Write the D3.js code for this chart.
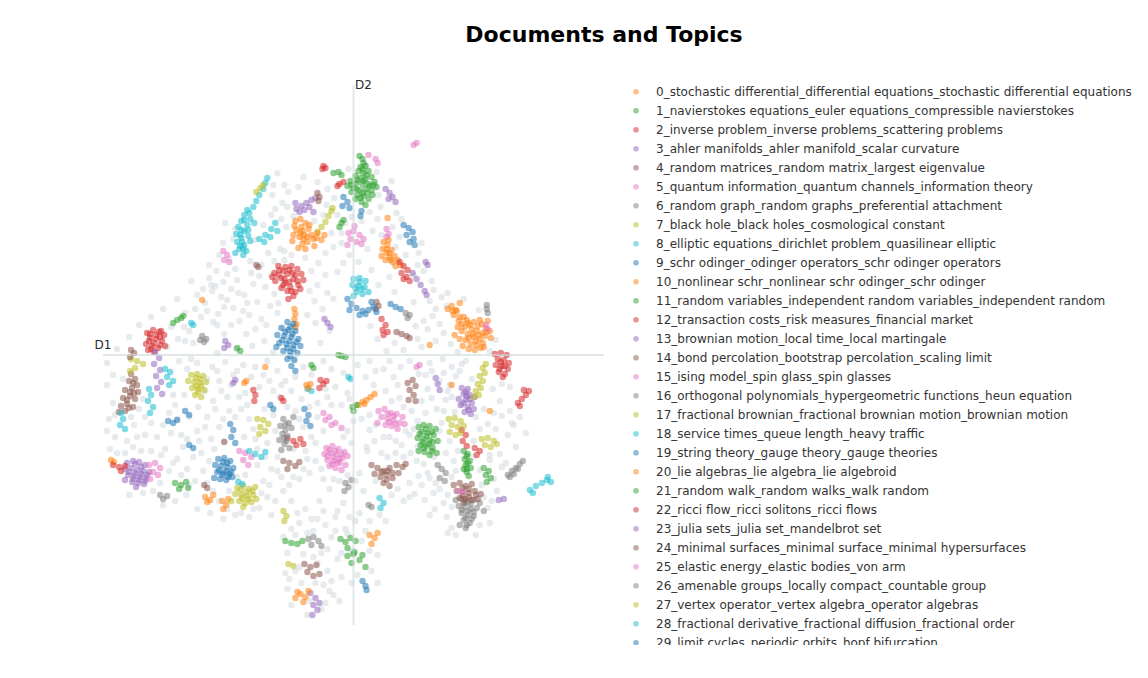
<!DOCTYPE html>
<html>
<head>
<meta charset="utf-8">
<script src="https://cdn.jsdelivr.net/npm/d3@7"></script>
<style>
  body { margin: 0; background: #fff; }
  text { font-family: "DejaVu Sans", Verdana, sans-serif; }
</style>
</head>
<body>
<div id="chart"></div>
<script>
const topicLabels = [
    "0_stochastic differential_differential equations_stochastic differential equations",
    "1_navierstokes equations_euler equations_compressible navierstokes",
    "2_inverse problem_inverse problems_scattering problems",
    "3_ahler manifolds_ahler manifold_scalar curvature",
    "4_random matrices_random matrix_largest eigenvalue",
    "5_quantum information_quantum channels_information theory",
    "6_random graph_random graphs_preferential attachment",
    "7_black hole_black holes_cosmological constant",
    "8_elliptic equations_dirichlet problem_quasilinear elliptic",
    "9_schr odinger_odinger operators_schr odinger operators",
    "10_nonlinear schr_nonlinear schr odinger_schr odinger",
    "11_random variables_independent random variables_independent random",
    "12_transaction costs_risk measures_financial market",
    "13_brownian motion_local time_local martingale",
    "14_bond percolation_bootstrap percolation_scaling limit",
    "15_ising model_spin glass_spin glasses",
    "16_orthogonal polynomials_hypergeometric functions_heun equation",
    "17_fractional brownian_fractional brownian motion_brownian motion",
    "18_service times_queue length_heavy traffic",
    "19_string theory_gauge theory_gauge theories",
    "20_lie algebras_lie algebra_lie algebroid",
    "21_random walk_random walks_walk random",
    "22_ricci flow_ricci solitons_ricci flows",
    "23_julia sets_julia set_mandelbrot set",
    "24_minimal surfaces_minimal surface_minimal hypersurfaces",
    "25_elastic energy_elastic bodies_von arm",
    "26_amenable groups_locally compact_countable group",
    "27_vertex operator_vertex algebra_operator algebras",
    "28_fractional derivative_fractional diffusion_fractional order",
    "29_limit cycles_periodic orbits_hopf bifurcation"
];

// documents outside the shown topics (grey)
const otherPoints = [
    [-14.8,5.2],[-14.1,6.4],[-13.5,4.1],[-13.0,7.3],[-12.6,5.5],[-12.2,3.0],[-11.8,8.6],[-11.5,6.2],[-11.0,4.4],[-10.7,2.1],
    [-10.3,9.4],[-10.0,7.1],[-9.6,5.3],[-9.2,3.6],[-8.9,1.4],[-8.5,10.2],[-8.2,8.0],[-7.9,6.1],[-7.6,4.2],[-7.3,10.6],
    [-6.9,9.5],[-4.8,9.7],[-4.2,8.4],[-3.6,7.0],[-3.9,5.4],[-3.1,4.6],[-12.9,2.1],[-14.0,3.3],[-15.2,3.8],[-16.4,2.4],
    [-17.5,1.6],[-13.7,8.4],[-12.4,9.6],[-11.1,10.8],[-9.8,11.5],[-15.6,6.0],[-14.4,7.7],[-11.7,0.6],[-10.1,0.9],[-8.7,3.0],
    [-9.4,7.9],[-10.9,6.0],[-12.0,4.7],[-13.2,5.8],[-7.0,2.7],[-8.0,0.3],[-3.3,1.2],[-2.4,2.4],[-2.0,5.6],[-1.6,8.3],
    [-13.8,6.9],[-12.9,4.8],[-12.2,6.6],[-11.4,3.4],[-10.6,5.2],[-10.2,8.2],[-9.2,9.0],[-8.8,6.8],[-8.3,4.9],[-7.5,5.2],
    [-7.9,9.4],[-6.9,10.4],[-6.2,10.0],[-3.5,9.2],[-2.8,8.0],[-2.6,6.2],[-4.4,6.4],[-4.6,4.0],[-3.8,3.2],[-9.8,2.6],
    [-10.4,4.0],[-11.6,7.5],[-12.6,8.1],[-13.6,3.0],[-14.6,4.4],[-15.8,4.6],[-16.8,1.4],[-9.0,13.0],[-8.2,14.0],[-7.2,13.6],
    [-6.6,14.8],[-6.9,17.0],[-7.6,18.2],[-8.0,17.0],[-2.0,10.8],[-2.8,10.2],[-1.2,12.2],[-3.0,14.0],[-0.2,13.8],[2.8,12.0],
    [4.6,11.8],[6.8,11.2],[5.2,10.0],[6.0,8.0],[7.8,7.4],[8.8,5.8],[9.4,6.2],[-12.0,11.6],[-13.4,10.0],[-14.2,7.0],
    [-7.8,14.6],[-7.1,15.2],[-6.5,16.3],[-6.0,13.9],[-5.5,16.8],[-3.6,17.3],[-2.6,16.6],[-1.9,15.7],[-2.7,15.0],[-1.6,14.0],
    [-0.8,13.2],[-2.2,12.2],[-1.2,11.2],[-0.4,10.0],[0.5,9.3],[1.4,10.6],[1.9,12.4],[2.4,13.6],[2.7,14.8],[1.6,14.3],
    [2.5,16.0],[4.3,14.2],[4.8,13.6],[3.9,12.8],[4.2,10.8],[6.5,10.2],[7.0,8.4],[6.4,9.0],[-6.7,12.8],[-8.1,16.0],
    [-5.0,17.8],[-3.9,13.4],[1.2,19.0],[2.3,18.3],[3.8,17.4],[-0.5,18.6],[1.8,8.5],[2.5,7.0],[3.6,7.8],[4.1,6.3],
    [8.0,6.5],[7.6,5.4],[6.0,5.3],[-1.0,9.2],[0.8,13.4],
    [7.9,3.9],[8.6,3.1],[9.3,4.9],[9.0,2.2],[8.2,1.4],[9.7,1.1],[10.4,0.3],[7.4,2.6],[6.8,0.8],[6.2,2.9],
    [5.0,0.5],[4.1,1.2],[3.3,0.4],[2.4,1.6],[1.7,2.9],[8.9,-0.4],[7.6,-0.8],[6.5,-1.9],[10.8,-0.9],[12.5,4.5],
    [11.0,5.6],[13.6,0.4],[14.2,1.5],[14.8,-2.9],[13.9,-3.4],[15.6,-3.2],
    [8.2,4.6],[7.0,3.4],[6.4,1.6],[5.6,-0.6],[7.8,-1.6],[8.6,-2.6],[9.8,-1.2],[10.6,-1.6],[11.2,-0.6],[3.6,-0.6],
    [2.2,-1.6],[4.4,-3.0],[3.8,-4.6],[5.0,-5.2],[6.8,-4.6],[7.4,-3.4],[9.0,-5.6],[9.8,-4.2],[8.8,-6.8],[6.0,-7.4],
    [5.2,-7.6],[4.2,-8.6],[3.0,-8.2],[2.2,-7.0],[1.6,-6.0],[5.0,-10.2],[6.4,-9.2],[7.4,-11.8],[8.2,-12.8],[9.8,-12.2],
    [10.0,-10.6],[12.6,-7.4],[12.0,-8.6],[14.6,-4.6],[15.6,-5.6],[15.8,-6.8],[14.0,-5.8],[13.6,-10.0],[14.8,-11.2],[12.8,-13.0],
    [13.8,-14.6],[9.8,-15.2],[9.0,-14.8],[8.0,-13.8],[6.8,-13.0],[4.4,-13.4],[5.6,-14.2],[4.2,-9.8],[3.4,-10.2],[9.4,-17.8],
    [12.2,-18.0],[13.6,-16.8],[7.6,-16.0],[16.6,-6.2],[10.8,-5.0],[9.4,-3.6],
    [3.0,-1.4],[4.0,-2.2],[4.7,-1.2],[7.2,-2.0],[7.8,-4.3],[9.0,-1.8],[9.6,-3.0],[9.2,-4.5],[10.2,-2.1],[8.3,-5.4],
    [7.2,-5.8],[6.4,-6.6],[5.8,-5.6],[4.6,-4.3],[3.2,-3.6],[2.0,-3.0],[1.2,-2.2],[0.8,-6.4],[1.6,-7.5],[2.1,-8.6],
    [3.6,-8.2],[4.8,-9.0],[5.6,-8.0],[5.7,-9.8],[6.3,-10.6],[7.0,-10.9],[8.0,-10.2],[9.2,-9.8],[9.6,-8.6],[10.4,-9.6],
    [12.2,-6.2],[13.0,-5.4],[13.4,-6.9],[14.2,-7.4],[14.8,-6.1],[15.4,-8.0],[14.6,-9.9],[15.2,-10.8],[13.6,-10.5],[12.6,-11.5],
    [14.0,-12.4],[13.0,-14.2],[14.3,-13.6],[9.4,-14.0],[8.6,-13.4],[7.6,-12.3],[6.5,-12.1],[5.6,-12.8],[6.1,-13.9],[7.1,-14.5],
    [8.1,-15.4],[9.3,-16.2],[9.8,-17.3],[10.2,-18.0],[12.6,-17.0],[13.4,-15.3],[2.8,-9.8],[1.3,-9.2],[0.6,-11.8],[5.0,-14.6],
    [3.8,-14.0],[16.0,-7.0],[16.2,-9.2],[17.2,-7.8],[12.0,-10.2],[10.2,-11.6],[11.8,-2.4],[10.1,-5.7],[8.6,-7.6],
    [-24.6,-3.0],[-24.0,-4.8],[-24.4,-6.4],[-23.8,-8.2],[-24.3,-9.4],[-22.6,-8.6],[-21.9,-7.0],[-21.4,-5.4],[-20.8,-8.0],[-21.2,-9.6],
    [-22.4,-14.0],[-21.0,-13.8],[-20.0,-13.6],[-19.3,-12.8],[-18.4,-11.6],[-17.6,-10.4],[-18.8,-9.4],[-19.6,-8.2],[-17.2,-8.0],[-17.8,-5.0],
    [-16.9,-4.0],[-17.4,-0.6],[-16.2,-0.4],[-15.5,-5.2],[-14.6,-6.2],[-15.6,-7.6],[-14.2,-8.4],[-15.2,-9.8],[-16.6,-11.4],[-15.8,-12.6],
    [-16.7,-14.0],[-15.6,-15.4],[-14.3,-15.8],[-13.0,-16.4],[-11.8,-16.0],[-10.4,-16.2],[-9.4,-15.3],[-8.6,-14.2],[-9.0,-12.6],[-8.2,-11.4],
    [-7.6,-10.2],[-9.6,-11.0],[-10.8,-12.0],[-11.6,-12.2],[-14.4,-10.6],[-13.9,-9.4],[-12.9,-8.6],[-13.4,-7.2],[-13.8,-5.4],[-12.6,-4.2],
    [-13.4,-2.6],[-14.1,-1.2],[-12.8,-0.7],[-11.6,-1.6],[-10.8,-3.8],[-11.2,-5.4],[-10.4,-6.4],[-10.9,-8.2],[-9.8,-8.4],[-8.6,-8.8],
    [-7.8,-7.6],[-8.0,-6.0],[-8.9,-5.4],[-9.4,-3.2],[-8.4,-2.6],[-7.6,-1.6],[-8.6,-0.6],[-6.8,-2.6],[-5.8,-2.2],[-5.2,-4.4],
    [-5.8,-5.6],[-6.0,-9.4],[-4.8,-9.6],[-4.2,-8.2],[-3.8,-10.6],[-4.4,-11.8],[-5.4,-12.4],[-6.4,-13.0],[-7.2,-12.2],[-3.6,-4.8],
    [-2.6,-4.2],[-1.8,-3.2],[-1.2,-5.0],[-0.6,-7.6],[-0.2,-8.8],[-3.0,-12.4],[-2.4,-13.4],[-1.4,-12.6],[-3.4,-14.6],[-20.2,-6.8],
    [-22.8,-9.8],[-18.2,-7.8],[-16.4,-6.2],[-14.8,-3.6],[-12.2,-3.0],[-9.8,-1.2],[-6.4,-6.8],[-7.4,-4.2],[-19.0,-15.0],[-17.8,-14.6],
    [-12.4,-13.6],[-5.0,-7.2],[-2.2,-1.4],[-1.0,-1.8],[-23.0,-2.4],[-18.6,0.8],[-16.0,1.2],[-13.6,0.2],
    [-24.0,-2.0],[-23.8,-6.0],[-23.6,-9.8],[-22.2,-6.2],[-21.0,-4.4],[-20.8,-6.2],[-21.6,-8.2],[-20.2,-9.6],[-19.2,-10.0],[-19.0,-7.0],
    [-18.4,-5.8],[-17.6,-6.4],[-17.0,-9.2],[-18.0,-10.8],[-17.2,-12.0],[-16.4,-13.0],[-16.0,-10.2],[-15.4,-8.6],[-14.8,-7.2],[-15.0,-11.6],
    [-14.6,-12.8],[-14.0,-13.6],[-12.6,-15.4],[-11.2,-15.8],[-10.0,-15.4],[-9.2,-13.8],[-8.4,-13.0],[-7.8,-14.6],[-7.6,-11.6],[-8.8,-10.2],
    [-9.6,-9.4],[-10.0,-7.4],[-10.6,-5.0],[-11.4,-4.2],[-11.8,-6.2],[-12.4,-5.6],[-13.0,-6.4],[-14.0,-4.6],[-13.2,-3.6],[-14.6,-2.4],
    [-13.6,-1.6],[-12.0,-2.0],[-11.0,-1.0],[-10.2,-2.2],[-9.0,-2.0],[-8.0,-3.6],[-7.2,-3.0],[-6.2,-3.6],[-6.6,-5.2],[-5.4,-6.4],
    [-4.4,-5.2],[-3.6,-6.2],[-3.0,-7.6],[-3.8,-8.8],[-4.6,-10.4],[-5.0,-11.4],[-6.0,-12.2],[-7.0,-13.6],[-3.2,-11.4],[-2.0,-12.4],
    [-0.6,-12.0],[-1.0,-8.2],[0.0,-6.6],[-0.4,-4.4],[-2.2,-5.0],[-2.8,-3.4],[-4.2,-2.0],[-5.0,-1.2],[-6.0,-0.4],[-3.0,-0.6],
    [-24.6,-7.6],[-22.0,-9.2],[-18.0,-4.0],[-16.6,-1.4],[-15.6,-0.8],[-16.6,-8.4],[-13.4,-14.6],[-8.2,-16.0],[-6.2,-14.6],
    [-6.2,-17.4],[-5.4,-16.8],[-4.6,-17.8],[-3.6,-16.4],[-2.8,-17.0],[-1.8,-16.2],[-0.8,-17.4],[0.2,-16.6],[1.2,-17.6],[-5.8,-18.0],
    [-4.0,-17.6],[-2.2,-18.2],[-0.6,-17.9],[-6.6,-19.8],[-5.0,-19.9],[-3.2,-19.8],[-1.6,-20.4],[-2.6,-21.6],[-1.2,-22.2],[-6.4,-22.4],
    [-5.2,-22.8],[-3.0,-23.0],[-2.0,-24.0],[-5.8,-21.6],[-3.6,-20.8],[0.4,-22.0],[-6.6,-23.4],[-2.8,-24.8],[-4.6,-26.0],[-0.2,-19.6],
    [2.4,-20.0],[2.6,-16.0],[-7.0,-18.2],[-1.0,-14.8],[0.6,-15.8],[-4.8,-15.4],
    [-5.6,-15.8],[-4.2,-16.4],[-3.0,-15.6],[-1.8,-17.6],[-0.4,-16.2],[1.6,-16.6],[0.8,-18.6],[-2.6,-19.4],[-1.2,-19.8],[1.6,-19.6],
    [-4.0,-20.2],[-5.4,-21.2],[-6.8,-21.8],[-2.2,-22.6],[-0.2,-22.8],[-3.8,-22.8],[-4.4,-24.6],[-3.2,-25.4],[-6.2,-25.0],[-2.4,-23.6],
    [-1.4,-24.6],[1.8,-21.6],[2.4,-22.8],
    [0.4,-1.0],[1.6,-0.6],[-0.6,-3.8],[1.4,-9.6],[0.2,-12.6],[2.2,-12.6],[1.0,-13.6],[-1.6,-15.6],[3.2,-16.6],
    [-24.6,-0.8],[-23.6,0.6],[-22.4,1.8],[-21.4,3.0],[-20.2,3.8],[-19.0,4.6],[-17.6,5.6],[-16.8,4.2],[-18.2,2.8],[-16.9,2.8],
    [-15.0,6.6],[-16.2,7.4],[-14.4,9.0],[-13.0,11.2],[-11.8,12.6],[-12.8,13.2]
];

const t0 = [[9.4,4.6],[9.8,4.9],[10.3,4.4],[10.0,4.0],[10.6,3.8],[10.2,4.5],[11.3,3.5],[10.8,3.1],[11.6,3.0],[12.0,3.3],[12.4,2.9],[12.8,3.1],[13.2,2.7],[13.6,2.4],[12.9,2.2],[12.3,2.4],[11.8,2.6],[11.4,2.1],[12.0,1.8],[12.6,1.6],[13.1,1.9],[13.7,1.7],[11.2,1.5],[11.7,1.1],[12.3,1.0],[12.9,1.2],[12.1,0.5],[11.5,0.6],[10.8,2.4],[10.4,2.8],[13.4,3.4],[12.6,3.5],[11.4,3.2],[10.1,2.0],[10.9,0.9],
    [10.5,3.4],[11.1,2.8],[11.9,2.1],[12.5,2.0],[13.3,2.3],[11.5,1.7],[12.2,1.4],[10.6,1.6],[12.7,0.7],[11.0,3.8],[9.9,4.4],[13.0,0.8],
    [-14.8,-14.2],[-14.3,-14.5],[-14.0,-14.0],[-14.6,-14.7],[-13.1,-14.6],[-12.7,-15.0],[-13.0,-15.4],[-12.5,-14.4],[-23.9,-10.7],[-24.2,-10.5],[7.6,1.0],[9.8,-3.0],[13.6,-5.6]];
const t1 = [[0.6,19.9],[0.9,19.6],[1.0,19.2],[0.7,18.8],[1.2,18.9],[0.5,18.4],[1.0,18.2],[1.5,18.4],[0.2,17.9],[0.7,17.7],[1.2,17.6],[1.8,17.8],[-0.3,17.4],[0.3,17.2],[0.9,17.1],[1.5,17.1],[2.1,17.3],[-0.6,16.9],[0.0,16.7],[0.6,16.5],[1.2,16.6],[1.8,16.5],[2.3,16.8],[0.4,16.0],[1.0,15.9],[1.5,15.6],[0.8,15.3],[1.2,15.0],[0.2,15.6],[-0.2,16.3],[1.9,16.0],
    [0.9,18.6],[1.3,18.0],[0.4,17.5],[1.0,17.4],[1.6,16.9],[0.3,16.6],[0.9,16.2],[1.4,16.2],[-0.2,17.0],[2.0,17.0],[0.7,15.7],
    [-6.8,-18.6],[-6.2,-18.8],[-5.6,-18.9],[-5.1,-18.6],[-11.6,0.7],[-11.3,0.4],[-4.2,-1.0],[-4.0,-1.3]];
const t2 = [[-7.9,8.2],[-7.4,8.5],[-6.8,8.8],[-6.2,8.9],[-5.6,8.6],[-5.2,8.1],[-5.0,7.5],[-5.5,7.0],[-6.0,7.6],[-6.6,8.1],[-7.2,7.7],[-7.8,7.4],[-8.1,7.8],[-6.8,7.2],[-6.3,6.8],[-5.8,6.3],[-6.6,6.4],[-7.2,6.7],[-6.0,5.9],[-6.5,5.6],[-5.3,6.6],[-7.5,8.9],[-6.1,8.2],
    [-7.0,8.4],[-6.4,8.5],[-5.8,8.0],[-7.5,8.0],[-6.9,7.6],[-6.4,7.3],[-5.6,7.4],[-6.2,6.4],[-7.0,7.0],
    [10.8,-7.5],[11.2,-8.0],[10.9,-8.6],[11.3,-9.1],[-6.6,-8.3],[-6.0,-8.6],[-5.3,-8.4],[-5.0,-8.9],[-5.7,-9.0],[-1.4,17.1],[-1.0,17.3],[-1.6,16.9],[-7.2,-4.3],[-7.0,-4.6]];
const t3 = [[-22.6,-10.8],[-22.0,-10.6],[-21.4,-10.7],[-20.8,-11.0],[-22.8,-11.4],[-22.2,-11.3],[-21.6,-11.5],[-21.0,-11.6],[-20.4,-11.7],[-22.5,-12.0],[-21.9,-12.1],[-21.3,-12.2],[-20.7,-12.3],[-22.1,-12.7],[-21.5,-12.8],[-20.9,-12.9],[-22.8,-12.5],[-21.7,-13.2],
    [-21.8,-10.9],[-21.2,-11.2],[-22.4,-11.7],[-21.8,-11.8],[-21.2,-11.9],[-20.6,-12.0],[-22.0,-12.4],[-21.4,-12.5],[-20.8,-12.6],
    [5.9,8.2],[6.3,7.6],[6.7,7.0],[7.1,6.4],[7.3,6.0],[-4.3,-23.8],[-3.8,-24.3],[-4.0,-25.0],[-3.6,-25.5],[-4.1,-26.0],[-3.4,-24.8],[-12.0,-2.8],[-11.8,-2.5]];
const t4 = [[-22.2,-1.9],[-21.8,-2.4],[-22.4,-2.6],[-21.6,-3.0],[-22.1,-3.3],[-22.8,-3.5],[-21.5,-3.7],[-22.3,-4.1],[-23.0,-4.3],[-21.8,-4.4],[-22.6,-4.9],[-23.2,-5.1],[-22.0,-5.2],[-22.8,-5.6],[-23.4,-5.7],
    [-22.0,-2.8],[-22.3,-3.7],[-22.6,-4.5],[-22.4,-5.3],[-21.9,-3.8],
    [-4.9,-20.9],[-4.3,-21.2],[-3.7,-21.0],[-4.6,-21.7],[-4.0,-22.1],[-3.4,-21.9],[2.3,5.3],[2.5,4.9],[2.2,4.6],[-14.9,-13.0],[-14.6,-13.3]];
const t5 = [[-2.7,-9.3],[-2.1,-9.1],[-1.5,-9.4],[-0.9,-9.7],[-2.9,-9.9],[-2.3,-9.8],[-1.7,-10.0],[-1.1,-10.3],[-0.6,-10.1],[-2.6,-10.5],[-2.0,-10.6],[-1.4,-10.8],[-0.8,-11.0],[-1.8,-11.3],[-2.4,-11.1],[-1.2,-11.5],
    [-2.4,-9.5],[-1.8,-9.6],[-1.2,-9.9],[-2.6,-10.1],[-2.0,-10.2],[-1.4,-10.4],[-2.1,-10.9],[-1.6,-10.7],
    [-11.4,-9.6],[-10.8,-9.8],[-10.2,-10.2],[-11.0,-10.5],[-10.5,-11.0],[3.3,12.6],[3.5,12.1],[3.3,11.8],[13.2,3.0],[13.4,2.6]];
const t6 = [[10.2,-14.5],[10.8,-14.4],[11.4,-14.7],[12.0,-14.5],[12.6,-14.8],[10.5,-15.1],[11.1,-15.2],[11.7,-15.4],[12.3,-15.3],[10.8,-15.8],[11.4,-16.0],[12.0,-16.1],[11.0,-16.5],[11.6,-16.8],[10.6,-17.0],[11.2,-17.3],[13.0,-15.6],
    [11.1,-14.6],[11.7,-14.9],[10.8,-15.5],[11.4,-15.6],[12.0,-15.7],[11.2,-16.3],[11.8,-16.4],[11.3,-17.0],
    [8.4,-11.0],[8.8,-11.4],[9.2,-11.8],[8.6,-12.3],[9.1,-12.6],[13.3,5.0],[13.3,4.6],[13.4,4.2]];
const t7 = [[-11.6,-13.3],[-11.0,-13.1],[-10.4,-13.4],[-9.8,-13.2],[-11.8,-13.9],[-11.2,-14.0],[-10.6,-14.1],[-10.0,-14.0],[-11.4,-14.6],[-10.8,-14.8],[-10.2,-14.7],[-9.7,-14.4],[-11.0,-15.2],[-12.2,-14.6],
    [-11.3,-13.5],[-10.7,-13.7],[-10.1,-13.6],[-11.1,-14.3],[-10.5,-14.4],
    [-3.6,12.3],[-3.2,12.8],[-2.8,13.3],[-2.5,13.9],[-2.2,14.4],[-2.1,14.7],[-22.2,-0.4],[-21.6,-0.6],[-21.0,-0.9],[-21.8,-1.3],[-22.3,-1.6],[-6.5,-20.9],[-6.0,-21.1]];
const t8 = [[-8.6,17.7],[-8.8,17.2],[-9.0,16.6],[-9.4,16.0],[-9.7,15.4],[-10.0,14.8],[-10.4,14.2],[-10.9,14.0],[-10.3,13.6],[-11.2,13.4],[-10.6,13.0],[-11.5,12.8],[-10.9,12.4],[-11.7,12.1],[-11.2,11.7],[-10.5,11.9],[-11.6,11.3],[-10.9,11.0],[-11.4,10.6],[-10.7,10.4],[-11.0,10.0],[-11.8,10.2],[-10.3,11.4],[-9.9,13.2],
    [-10.6,14.5],[-10.9,13.5],[-11.2,12.5],[-11.3,12.0],[-11.1,11.3],[-11.3,10.9],[-11.0,10.6],[-10.5,12.5],
    [-23.2,-5.8],[-23.0,-6.4],[-23.3,-7.0],[-22.8,-7.4],[-0.5,-2.2],[-0.3,-2.4]];
const t9 = [[-13.5,-10.4],[-12.9,-10.3],[-12.3,-10.6],[-13.8,-11.0],[-13.2,-11.1],[-12.6,-11.2],[-12.0,-11.3],[-13.6,-11.7],[-13.0,-11.8],[-12.4,-11.9],[-13.3,-12.4],[-12.7,-12.5],[-12.1,-12.2],[-13.9,-12.3],
    [-13.0,-10.7],[-12.6,-10.8],[-13.4,-11.5],[-12.7,-11.6],[-12.2,-11.7],[-13.1,-12.0],[-12.5,-12.2],
    [-1.0,15.8],[-0.6,15.3],[-1.1,14.9],[-0.4,14.7],[0.8,14.4],[0.7,13.9],[3.7,5.1],[4.2,4.8],[4.7,4.6],[-16.8,-5.6],[-16.4,-6.0],[-8.3,-5.0],[-8.0,-5.4]];
const t10 = [[-5.8,13.4],[-5.3,13.6],[-4.8,13.2],[-5.2,12.8],[-5.7,12.5],[-4.5,12.6],[-4.9,12.0],[-5.4,11.8],[-6.0,12.0],[-4.2,12.0],[-3.7,11.7],[-3.2,11.5],[-3.6,12.2],[-2.9,12.0],[-4.6,11.3],[-5.1,11.1],[-5.5,10.7],[-4.8,10.6],[-6.1,11.4],[-5.9,12.9],[-4.4,13.0],[-3.9,10.9],
    [-5.1,12.4],[-5.3,12.2],[-4.6,11.8],[-5.0,11.6],[-4.0,11.6],
    [-5.9,4.6],[-5.8,4.1],[-5.9,3.6],[-5.7,3.1],[-5.8,2.8],[-5.8,-24.3],[-5.3,-23.9],[-4.8,-24.2],[-5.0,-24.7],[-4.5,-23.6],[-5.6,-23.7],[-15.1,5.5],[3.4,13.7]];
const t11 = [[6.5,-7.2],[7.0,-7.0],[7.6,-7.1],[8.2,-7.4],[6.8,-7.7],[7.4,-7.8],[8.0,-8.0],[6.4,-8.3],[7.0,-8.4],[7.6,-8.5],[8.4,-8.6],[6.7,-9.0],[7.3,-9.1],[7.9,-9.3],[7.1,-9.7],[7.6,-10.0],[6.5,-9.6],[8.3,-9.8],
    [7.2,-7.4],[7.8,-7.7],[6.6,-7.9],[7.3,-8.1],[7.9,-8.7],[6.9,-8.7],[7.5,-8.9],[7.0,-9.3],[7.8,-9.6],
    [-17.8,-12.8],[-17.2,-13.0],[-16.7,-12.7],[-17.4,-13.4],[-16.5,-13.3],[-1.3,-18.4],[-0.8,-18.7],[-0.3,-18.3],[0.2,-18.6],[-0.6,-19.3],[0.1,-19.7],[-1.2,-0.1],[-0.8,-0.2],[-1.5,0.0],[-1.4,12.8],[-1.2,13.2],[-1.0,13.5]];
const t12 = [[-20.6,2.2],[-20.0,2.5],[-19.4,2.3],[-18.9,2.0],[-20.3,1.7],[-19.7,1.6],[-19.1,1.4],[-20.7,1.1],[-20.1,0.9],[-19.5,0.7],[-18.8,0.9],[-19.9,0.3],[-20.5,0.5],[-19.2,2.4],
    [-20.3,2.1],[-19.7,2.0],[-19.3,1.8],[-20.4,1.4],[-19.9,1.2],[-19.3,1.0],[-20.2,0.6],
    [16.4,-4.8],[16.8,-4.4],[17.2,-4.0],[17.5,-3.6],[16.6,-5.1],[17.0,-3.5],[12.1,-9.3],[12.6,-9.6],[12.3,-10.0],[-3.0,18.9],[-2.8,18.7],[-3.1,18.6],[-3.3,-2.5],[-3.0,-2.9],[-3.4,-3.3],[-2.7,-2.6]];
const t13 = [[10.8,-3.3],[11.4,-3.4],[11.0,-3.9],[11.6,-4.0],[12.1,-4.2],[10.5,-4.4],[11.2,-4.5],[11.8,-4.8],[10.7,-5.0],[11.4,-5.2],[12.0,-5.4],[11.1,-5.7],[11.7,-5.9],
    [11.2,-3.7],[11.6,-4.4],[11.0,-4.8],[11.5,-5.5],[11.3,-4.1],
    [-19.8,0.3],[-19.4,-0.3],[-19.9,-0.9],[-19.3,-1.5],[-19.7,-2.1],[-19.2,-2.7],[-19.6,-3.3],[-19.1,-3.9],[7.2,9.3],[7.4,9.0],[-2.9,3.6],[-2.6,3.2],[-2.3,2.8],[14.5,-14.5],[15.0,-14.4]];
const t14 = [[10.0,-13.0],[10.6,-12.8],[11.2,-13.1],[11.8,-12.9],[10.3,-13.6],[10.9,-13.7],[11.5,-13.8],[12.1,-13.6],[12.7,-13.9],[10.6,-14.3],[11.2,-14.4],[11.8,-14.5],[12.4,-14.4],[11.0,-14.8],
    [10.9,-13.3],[11.5,-13.4],[12.2,-14.0],[10.9,-14.1],[11.5,-14.2],
    [5.4,-2.8],[5.9,-2.5],[6.2,-3.1],[5.6,-3.5],[6.0,-4.0],[5.5,-4.5],[6.2,-4.6],[-22.2,0.5],[-21.9,0.2],[-22.3,-0.2],[-9.7,9.0],[-9.5,8.8]];
const t15 = [[2.5,-5.6],[3.1,-5.4],[3.7,-5.8],[4.3,-5.9],[4.9,-6.2],[2.8,-6.2],[3.4,-6.4],[4.0,-6.5],[4.6,-6.8],[3.2,-7.0],[3.8,-7.1],[4.4,-7.4],[2.4,-6.8],[5.1,-6.9],
    [3.4,-5.9],[4.0,-6.1],[3.6,-6.7],[4.2,-6.9],
    [-20.4,-11.0],[-19.8,-10.8],[-19.3,-11.3],[-20.0,-11.7],[-19.5,-12.0],[-20.3,-12.4],[6.0,21.0],[6.3,21.2],[6.3,-1.2],[6.6,-1.0]];
const t16 = [[-7.0,-6.4],[-6.5,-6.8],[-7.3,-7.1],[-6.8,-7.5],[-6.2,-7.3],[-7.1,-7.9],[-6.6,-8.1],[-7.4,-8.5],[-6.9,-8.9],[-6.4,-9.3],[-7.2,-9.5],[-6.0,-6.2],
    [-6.8,-7.0],[-6.9,-8.3],[-6.7,-8.6],
    [-15.1,1.9],[-14.7,1.6],[-14.9,1.3],[-15.3,1.5],[-19.3,-14.0],[-19.0,-14.4],[-18.6,-14.1],[1.5,-15.0],[1.8,-15.2]];
const t17 = [[-16.2,-2.0],[-15.6,-1.9],[-15.0,-2.1],[-16.5,-2.6],[-15.9,-2.7],[-15.3,-2.8],[-14.7,-2.7],[-16.1,-3.3],[-15.5,-3.4],[-14.9,-3.5],[-15.8,-4.0],[-15.2,-4.2],
    [-15.7,-2.3],[-15.3,-2.4],[-15.7,-3.1],[-15.2,-3.1],[-15.5,-3.7],
    [9.5,-6.4],[10.1,-6.3],[10.7,-6.6],[9.8,-7.0],[10.4,-7.2],[11.0,-7.1],[9.6,-7.7],[10.2,-8.0],[10.7,-7.8],[-9.6,-6.4],[-9.0,-6.5],[-8.5,-6.9],[-9.3,-7.2],[-8.8,-7.6],[-9.4,-7.9],[-9.7,16.3],[-9.3,16.7],[-9.0,17.0]];
const t18 = [[0.0,7.6],[0.6,7.7],[1.2,7.4],[-0.1,7.0],[0.5,6.9],[1.1,6.8],[1.5,6.3],[0.3,6.3],[0.9,6.1],[0.0,5.9],[0.6,7.3],[0.8,6.6],[0.2,6.7],
    [-9.4,11.6],[-8.8,12.0],[-8.2,12.6],[-7.8,13.2],[-8.9,11.3],[-8.3,11.8],[-7.6,12.4],[-18.8,-1.4],[-18.3,-1.7],[-18.6,-2.2],[-18.0,-2.6],[-18.4,-3.0],[-11.5,-12.7],[-11.1,-12.9],[-4.6,-3.4],[-4.2,-3.6]];
const t19 = [[-6.6,3.3],[-6.0,3.1],[-7.2,2.7],[-6.5,2.5],[-5.8,2.4],[-7.6,2.0],[-6.9,1.9],[-6.2,1.8],[-5.5,1.6],[-7.4,1.2],[-6.7,1.1],[-6.0,1.0],[-5.3,0.9],[-7.0,0.4],[-6.3,0.3],[-5.6,0.2],[-6.6,-0.4],[-5.9,-0.5],[-6.2,-1.1],[-5.8,-1.6],[-7.7,0.8],
    [-6.3,2.8],[-6.8,2.3],[-6.1,2.1],[-7.1,1.5],[-6.4,1.4],[-5.7,1.3],[-6.6,0.7],[-6.0,0.6],[-6.3,-0.1],
    [5.0,13.0],[5.5,12.7],[5.9,12.3],[5.3,12.0],[6.0,11.6],[5.6,11.3],[6.1,11.0],[-4.9,-5.4],[-4.5,-6.0],[-4.7,-6.6],[-4.3,-7.1],[-18.5,-6.6],[-18.0,-6.8],[-17.6,-6.5]];
const t20 = [[3.0,11.3],[3.4,11.0],[2.9,10.6],[3.3,10.2],[3.8,10.5],[3.6,9.8],[4.1,9.9],[3.2,9.5],[3.9,9.3],[4.4,9.5],[4.2,8.9],[4.7,9.0],[2.8,9.9],[3.5,11.5],[3.3,10.6],[3.6,10.2],[3.7,9.5],
    [0.5,-5.0],[0.9,-4.7],[1.3,-4.5],[1.7,-4.2],[2.1,-3.9],[1.1,-4.9],[1.6,-18.0],[2.1,-18.3],[1.8,-18.9],[2.4,-17.8],[-10.9,-2.8],[-10.7,-2.6],[-4.7,-3.0],[-4.3,-2.9],[-4.5,-3.3],[-8.8,-1.2],[10.6,5.2]];
const t21 = [[11.0,-9.6],[11.4,-9.9],[11.1,-10.4],[11.6,-10.6],[11.2,-11.0],[11.7,-11.3],[11.3,-11.7],[11.5,-12.1],[11.0,-11.4],[13.0,-11.3],[13.5,-11.6],[13.2,-12.0],[13.7,-12.3],[13.3,-12.7],[11.3,-10.1],[11.4,-10.8],[11.3,-11.4],
    [-18.0,3.2],[-17.6,3.5],[-17.2,3.7],[-17.0,3.9],[-0.6,-20.1],[0.0,-19.9],[0.6,-20.5],[1.2,-21.2],[-0.2,-20.8],[0.9,-20.0],[-0.1,-5.2],[0.3,-5.0],[0.0,-5.6],[-2.0,18.2],[-1.5,18.3],[-1.2,18.0]];
const t22 = [[14.1,0.1],[14.7,0.2],[15.3,0.0],[14.4,-0.4],[15.0,-0.5],[15.5,-0.8],[14.2,-1.0],[14.8,-1.1],[15.4,-1.4],[14.5,-1.7],[15.1,-1.9],[14.9,-2.2],[14.7,-0.7],[15.1,-1.1],[14.6,-1.4],
    [4.6,9.3],[5.0,8.9],[5.4,8.5],[4.8,8.2],[5.3,7.8],[5.6,7.4],[5.0,7.6],[2.8,3.6],[3.2,3.0],[2.9,2.5],[3.4,2.3],[3.0,2.0],[-24.0,-11.0],[-23.4,-11.2],[-22.8,-11.1],[-23.2,-11.6],[-10.0,-3.5],[-9.8,-4.0],[-9.9,-4.6]];
const t23 = [[-5.7,14.6],[-5.2,14.9],[-4.7,15.2],[-4.2,15.5],[-5.4,14.3],[-4.9,14.5],[-4.4,14.8],[-4.0,14.3],[-5.8,15.2],[-3.8,15.7],
    [3.2,16.6],[3.6,16.2],[3.9,15.8],[4.2,15.3],[3.5,15.6],[8.2,-2.3],[8.4,-2.9],[8.6,-3.5],[-12.8,1.4],[-12.5,1.0],[-12.9,0.7]];
const t24 = [[1.8,-11.0],[2.4,-11.3],[3.0,-11.6],[3.6,-11.3],[4.3,-11.0],[4.9,-11.2],[2.1,-11.9],[2.7,-12.2],[3.3,-12.0],[3.9,-12.3],[4.5,-11.8],[3.0,-12.8],[3.6,-13.1],[5.2,-10.9],[2.8,-11.7],[3.4,-11.6],[3.9,-11.8],[3.3,-12.5],
    [-7.0,-10.6],[-6.4,-10.8],[-5.8,-11.1],[-6.6,-11.4],[-5.4,-10.7],[4.3,2.3],[4.8,2.1],[5.3,1.9],[5.6,1.7],[-3.6,16.2],[-3.4,15.8],[-3.5,15.4],[-12.9,-8.7]];
const t25 = [[-0.5,12.2],[0.0,12.4],[0.6,12.0],[1.0,11.6],[-0.3,11.6],[0.3,11.3],[0.8,11.1],[-0.6,11.0],[0.1,12.9],
    [-13.0,10.4],[-12.6,10.0],[-12.9,9.5],[-12.4,9.3],[-3.0,-5.8],[-2.4,-6.2],[-1.8,-6.8],[-1.2,-7.3],[-2.2,-7.0],[-2.8,-6.5],[2.2,19.6],[2.4,19.2],[1.5,20.0],[10.5,-13.6],[10.9,-13.7]];
const t26 = [[15.4,-12.0],[15.8,-11.6],[16.2,-11.3],[16.6,-10.9],[16.9,-10.6],[15.6,-12.2],[16.0,-11.9],[16.4,-11.4],
    [5.2,4.2],[5.6,4.0],[5.4,3.7],[-4.5,-18.4],[-4.0,-18.2],[-3.5,-18.6],[-4.2,-19.0],[-3.2,-19.1],[-0.8,-12.8],[-0.5,-13.2],[-0.2,-12.5],[-0.9,-13.6]];
const t27 = [[13.2,-0.9],[12.9,-1.3],[13.1,-1.8],[12.6,-2.1],[12.9,-2.6],[12.4,-2.9],[12.7,-3.3],[12.2,-3.6],[12.5,-4.0],[12.0,-4.2],
    [12.8,-8.4],[13.4,-8.3],[14.0,-8.6],[13.1,-9.0],[13.7,-9.2],[14.3,-8.9],[-7.0,-15.6],[-6.7,-16.1],[-6.9,-16.6]];
const t28 = [[17.6,-13.5],[18.2,-13.1],[18.8,-12.8],[19.3,-12.5],[19.7,-12.7],[19.4,-12.2],[17.9,-13.8],
    [-20.4,-3.4],[-20.2,-4.0],[-20.5,-4.6],[-20.0,-5.2],[-20.3,-5.8],[2.6,-14.3],[3.0,-14.8],[2.7,-15.3],[-10.4,-9.6],[-9.8,-9.9],[-9.2,-10.2],[-8.8,-9.7],[-16.2,3.2],[-16.0,3.0]];
const t29 = [[-0.6,5.6],[-0.2,5.1],[0.3,4.7],[0.9,4.4],[1.5,4.5],[2.0,4.8],[2.3,4.3],[1.2,4.1],[0.6,4.0],[-0.4,4.5],[1.8,5.3],
    [-12.3,-6.9],[-12.0,-7.5],[-12.2,-8.2],[-11.8,-8.8],[0.9,-22.6],[1.2,-23.1],[1.3,-23.5],[-16.4,-9.0],[-16.0,-9.3]];

const topicPoints = [t0, t1, t2, t3, t4, t5, t6, t7, t8, t9, t10, t11, t12, t13, t14,
    t15, t16, t17, t18, t19, t20, t21, t22, t23, t24, t25, t26, t27, t28, t29];

const width = 1148;
const height = 678;
const plot = { left: 103, right: 604, top: 85, bottom: 625 };
const xRange = [-25, 25];
const yRange = [-27, 27];

const svg = d3.select("#chart")
    .append("svg")
    .attr("width", width)
    .attr("height", height);

const x = d3.scaleLinear().domain(xRange).range([plot.left, plot.right]);
const y = d3.scaleLinear().domain(yRange).range([plot.bottom, plot.top]);

// "other" trace takes the first colour slot, so topic 0 starts at orange
const color = i => d3.schemeCategory10[(i + 1) % 10];

const defs = svg.append("defs");
defs.append("clipPath").attr("id", "plot-clip")
    .append("rect")
    .attr("x", plot.left).attr("y", plot.top)
    .attr("width", plot.right - plot.left).attr("height", plot.bottom - plot.top);
defs.append("clipPath").attr("id", "legend-clip")
    .append("rect")
    .attr("x", 615).attr("y", 75)
    .attr("width", 533).attr("height", 570);

const points = svg.append("g").attr("clip-path", "url(#plot-clip)");

points.append("g")
    .selectAll("circle")
    .data(otherPoints)
    .join("circle")
    .attr("cx", d => x(d[0]))
    .attr("cy", d => y(d[1]))
    .attr("r", 3.2)
    .attr("fill", "#CFD8DC")
    .attr("fill-opacity", 0.5);

topicPoints.forEach((pts, i) => {
    points.append("g")
        .selectAll("circle")
        .data(pts)
        .join("circle")
        .attr("cx", d => x(d[0]))
        .attr("cy", d => y(d[1]))
        .attr("r", 3.2)
        .attr("fill", color(i))
        .attr("fill-opacity", 0.55);
});

// D1 / D2 cross
svg.append("line")
    .attr("x1", x(xRange[0])).attr("x2", x(xRange[1]))
    .attr("y1", y(0)).attr("y2", y(0))
    .attr("stroke", "#CFD8DC").attr("stroke-opacity", 0.6).attr("stroke-width", 2);
svg.append("line")
    .attr("x1", x(0)).attr("x2", x(0))
    .attr("y1", y(yRange[0])).attr("y2", y(yRange[1]))
    .attr("stroke", "#CFD8DC").attr("stroke-opacity", 0.6).attr("stroke-width", 2);

svg.append("text")
    .attr("x", x(xRange[0]))
    .attr("y", y(0) - 10)
    .attr("text-anchor", "middle")
    .attr("dominant-baseline", "central")
    .attr("font-size", 12)
    .attr("fill", "#2a2a2a")
    .text("D1");
svg.append("text")
    .attr("x", x(0) + 10)
    .attr("y", y(yRange[1]))
    .attr("text-anchor", "middle")
    .attr("dominant-baseline", "central")
    .attr("font-size", 12)
    .attr("fill", "#2a2a2a")
    .text("D2");

svg.append("text")
    .attr("x", 604)
    .attr("y", 42)
    .attr("text-anchor", "middle")
    .attr("font-size", 22)
    .attr("font-weight", "bold")
    .attr("fill", "black")
    .text("Documents and Topics");

const legend = svg.append("g").attr("clip-path", "url(#legend-clip)");

const items = legend.selectAll("g")
    .data(topicLabels)
    .join("g")
    .attr("transform", (d, i) => `translate(636,${91.7 + i * 19})`);

items.append("circle")
    .attr("r", 2.8)
    .attr("fill", (d, i) => color(i))
    .attr("fill-opacity", 0.5);

items.append("text")
    .attr("x", 20)
    .attr("dominant-baseline", "central")
    .attr("font-size", 12)
    .attr("fill", "#333")
    .text(d => d);
</script>
</body>
</html>
